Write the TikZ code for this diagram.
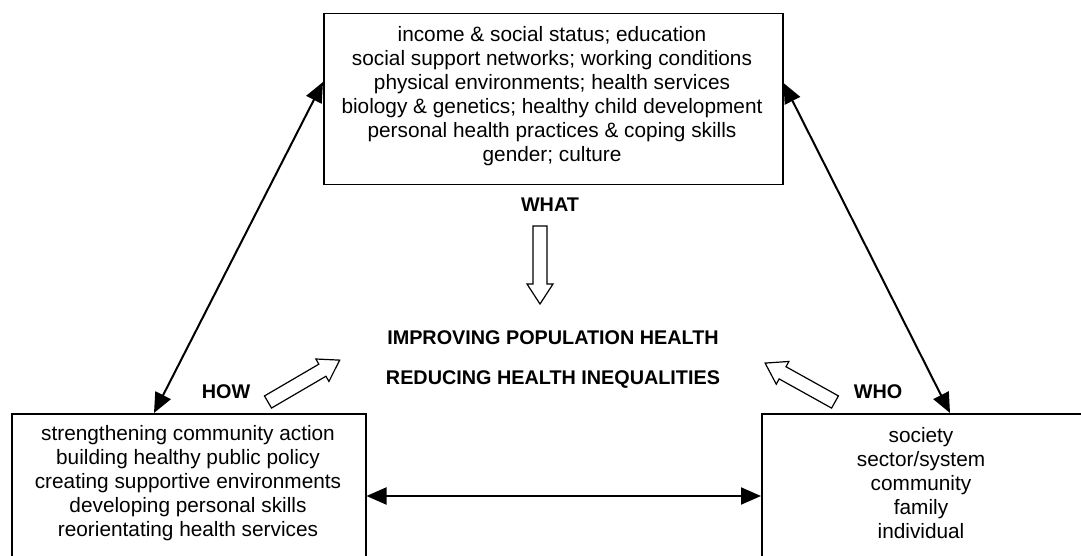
\documentclass[tikz,border=0pt]{standalone}
\usepackage{fontspec}
\setmainfont{Liberation Sans}
\usetikzlibrary{arrows.meta}
\begin{document}
\begin{tikzpicture}[x=1bp,y=-1bp,
  box/.style={draw, line width=1.5bp, inner sep=0pt, anchor=north west},
  txt/.style={font=\fontsize{20.8bp}{24bp}\selectfont, align=center, inner sep=0pt},
  lbl/.style={font=\fontsize{19.8bp}{24bp}\selectfont\bfseries, inner sep=0pt},
  link/.style={line width=2bp, {Triangle[length=20bp,width=17bp]}-{Triangle[length=20bp,width=17bp]}},
  hollow/.style={draw, line width=1.2bp, fill=white, line join=miter},
  pics/harrow/.style={code={\draw[hollow] (0,-7)--(#1-20,-7)--(#1-20,-13)--(#1,0)--(#1-20,13)--(#1-20,7)--(0,7)--cycle;}}
]
\useasboundingbox (0,0) rectangle (1081,556);
\clip (0,0) rectangle (1081,556);

% boxes
\node[box, minimum width=459bp, minimum height=171bp] (top) at (323,13) {};
\node[txt] (toptext) at (552,96) {income \& social status; education\\social support networks; working conditions\\physical environments; health services\\biology \& genetics; healthy child development\\personal health practices \& coping skills\\gender; culture};

\node[box, minimum width=354bp, minimum height=200bp] (how) at (11,413) {};
\node[txt] (howtext) at (188,483) {strengthening community action\\building healthy public policy\\creating supportive environments\\developing personal skills\\reorientating health services};

\node[box, minimum width=400bp, minimum height=200bp] (who) at (761,413) {};
\node[txt] (whotext) at (921,483) {society\\sector/system\\community\\family\\individual};

% labels
\node[lbl] (what) at (550,205) {WHAT};
\node[lbl] (howl) at (226,392) {HOW};
\node[lbl] (whol) at (878,392) {WHO};
\node[lbl] (goal1) at (553,338) {IMPROVING POPULATION HEALTH};
\node[lbl] (goal2) at (553,380) {REDUCING HEALTH INEQUALITIES};

% connector ends
\coordinate (tl) at ([yshift=-69bp]top.north west);
\coordinate (tr) at ([yshift=-70bp]top.north east);
\coordinate (bl) at ([xshift=143bp]how.north west);
\coordinate (br) at ([xshift=189bp]who.north west);
\coordinate (hl) at ([yshift=-83bp]how.north east);
\coordinate (hr) at ([yshift=-83bp]who.north west);

\draw[link] (bl) -- (tl);
\draw[link] (br) -- (tr);
\draw[link] (hl) -- (hr);

% hollow arrows
\pic[rotate=-90] at (540,226) {harrow=78};
\pic[rotate=30.3] at (268,402) {harrow=83};
\pic[rotate=150.9] at (835,402) {harrow=80};
\end{tikzpicture}
\end{document}
